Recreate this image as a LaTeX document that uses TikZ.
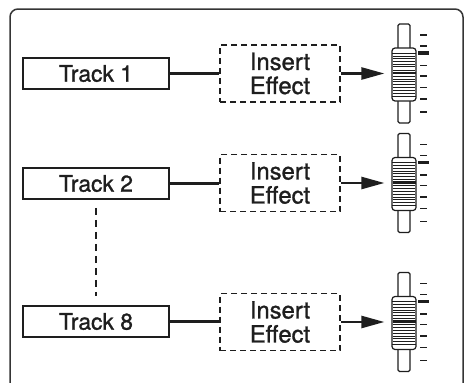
\documentclass[tikz,border=0pt]{standalone}
\usepackage{fontspec}
\setmainfont{TeX Gyre Heros}
\newfontfamily\labelfont[FakeBold=1.2]{TeX Gyre Heros}
\usetikzlibrary{arrows.meta,calc}
\definecolor{ink}{HTML}{1E1E1E}
\begin{document}
\begin{tikzpicture}[x=1pt,y=-1pt,
  trackbox/.style={draw=ink, line width=1.5pt, minimum width=146pt, minimum height=31pt, inner sep=0pt, text=ink, font=\labelfont\fontsize{22.8}{24}\selectfont},
  effectbox/.style={draw=ink, dash pattern=on 6pt off 4pt, line width=1.5pt, minimum width=120pt, minimum height=57pt, inner sep=0pt, align=center, text=ink, font=\labelfont\fontsize{23.8}{24}\selectfont},
  slotbox/.style={draw=ink, line width=1.2pt, minimum width=12pt, minimum height=99pt, rounded corners=1.5pt, fill=white, inner sep=0pt},
  knobbox/.style={draw=ink, line width=1.2pt, minimum width=24pt, minimum height=53pt, rounded corners=3pt, fill=white, inner sep=0pt},
  link/.style={draw=ink, line width=2.5pt},
  tickmark/.style={draw=ink, line width=1.8pt},
  grill/.style={draw=ink, line width=0.8pt},
]
\useasboundingbox (0,0) rectangle (464,383);
\clip (0,0) rectangle (464,383);
\draw[line width=1.5pt, draw=ink!90, rounded corners=8pt] (10,9) rectangle (463,392);

% tracks
\node[trackbox] (t1) at (96,73.5) {Track 1};
\node[trackbox] (t2) at (96,183.5) {Track 2};
\node[trackbox] (t8) at (96,321.5) {Track 8};

% insert effects
\node[effectbox] (e1) at (280,73.5) {Insert\\Effect};
\node[effectbox] (e2) at (280,183) {Insert\\Effect};
\node[effectbox] (e3) at (280,322) {Insert\\Effect};

% faders
\foreach \i/\yc in {1/74.5, 2/184, 3/323} {
  \node[slotbox] (s\i) at (404,\yc-1) {};
  \node[knobbox] (k\i) at (404,\yc) {};
  \begin{scope}[shift={(404,\yc)}]
    \draw[grill] (-12,-21.5) -- (12,-21.5);
    \draw[grill] (-12,21.5) -- (12,21.5);
    \foreach \d in {-18.5,-15.8,-13.1,-10.4,-7.7,-4.5,1.5,4.5,7.3,10.1,12.9,15.7,18.5}
      \draw[grill] (-11,\d) -- (11,\d);
    \draw[draw=ink, line width=2.4pt] (-11.5,-1.5) -- (11.5,-1.5);
    \foreach \d in {-39.5,-28.5,-9,1.5,13,24.5,37.5}
      \draw[tickmark] (16,\d) -- (23,\d);
    \draw[draw=ink, line width=3.2pt] (14,-21.5) -- (25,-21.5);
  \end{scope}
}

% connectors
\foreach \i/\t in {1/t1, 2/t2, 3/t8} {
  \draw[link] (\t.east) -- (\t.east -| e\i.west);
  \draw[link, -{Triangle[length=23pt,width=12pt]}, shorten >=7pt] (e\i.east) -- (e\i.east -| k\i.west);
}
\draw[draw=ink, line width=1.2pt, dash pattern=on 7pt off 5pt, shorten <=8pt, shorten >=9pt] (t2.south) -- (t8.north);
\end{tikzpicture}
\end{document}
